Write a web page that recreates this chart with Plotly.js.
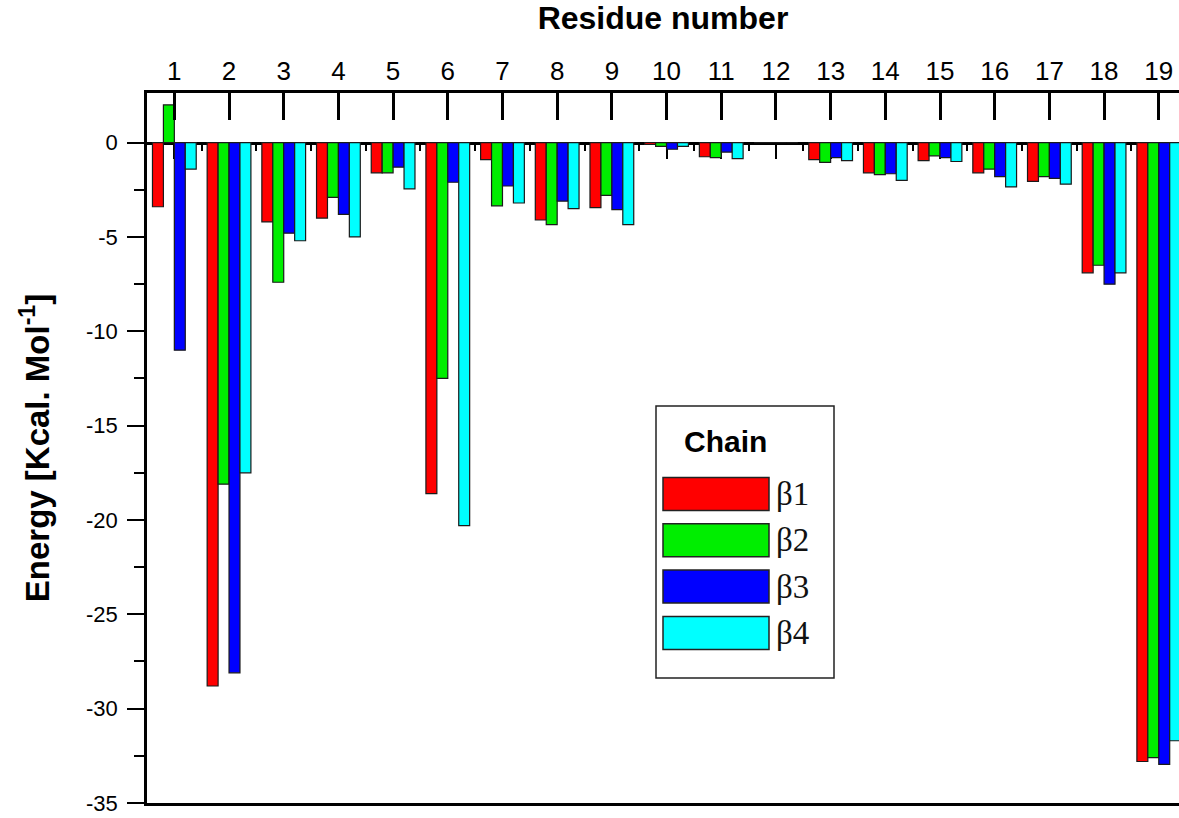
<!DOCTYPE html>
<html>
<head>
<meta charset="utf-8">
<script src="https://cdn.plot.ly/plotly-3.0.1.min.js"></script>
<style>html,body{margin:0;padding:0;background:#fff;}#chart{width:1179px;height:818px;}</style>
</head>
<body>
<div id="chart"></div>
<script>
// ---- data ----
const residues = [1, 2, 3, 4, 5, 6, 7, 8, 9, 10, 11, 12, 13, 14, 15, 16, 17, 18, 19];
const residueLabels = ['1','2','3','4','5','6','7','8','9','10','11','12','13','14','15','16','17','18','19'];
const beta1 = [-3.4, -28.8, -4.2, -4.0, -1.6, -18.6, -0.9, -4.1, -3.45, -0.1, -0.75, 0, -0.9, -1.6, -0.95, -1.6, -2.05, -6.9, -32.8];
const beta2 = [2.0, -18.1, -7.4, -2.9, -1.6, -12.5, -3.35, -4.35, -2.8, -0.2, -0.8, 0, -1.05, -1.7, -0.7, -1.4, -1.8, -6.5, -32.6];
const beta3 = [-11.0, -28.1, -4.8, -3.8, -1.3, -2.1, -2.3, -3.1, -3.55, -0.35, -0.5, 0, -0.8, -1.65, -0.8, -1.8, -1.9, -7.5, -32.95];
const beta4 = [-1.4, -17.5, -5.2, -5.0, -2.45, -20.3, -3.2, -3.5, -4.35, -0.2, -0.85, 0, -0.95, -2.0, -1.0, -2.35, -2.2, -6.9, -31.7];
const seriesNames = ['β1', 'β2', 'β3', 'β4'];
const seriesColors = ['#ff0000', '#00ee00', '#0000ff', '#00ffff'];
const yTickVals = [0, -5, -10, -15, -20, -25, -30, -35];
const yTickText = ['0', '-5', '-10', '-15', '-20', '-25', '-30', '-35'];
const legendTitle = 'Chain';
const xTitle = 'Residue number';
const yTitle = 'Energy [Kcal. Mol<sup>-1</sup>]';

// ---- layout geometry ----
const FIG_W = 1179, FIG_H = 818;
const M = {l: 147, r: 0, t: 93, b: 15};
const PW = FIG_W - M.l - M.r, PH = FIG_H - M.t - M.b;
const px = v => (v - M.l) / PW;
const py = v => (FIG_H - M.b - v) / PH;
const yMin = -35, yMax = 2.63;
const zeroPos = (0 - yMin) / (yMax - yMin);

const sans = 'Liberation Sans, Arial, Helvetica, sans-serif';
const serif = 'Liberation Serif, Times New Roman, serif';

const allSeries = [beta1, beta2, beta3, beta4];
const traces = allSeries.map((vals, i) => ({
  type: 'bar',
  name: seriesNames[i],
  x: residues,
  y: vals,
  xaxis: 'x',
  yaxis: 'y',
  marker: {color: seriesColors[i], line: {color: '#1a1a1a', width: 1.2}},
  showlegend: false,
  hoverinfo: 'x+y+name'
}));
// carrier for the top axis
traces.push({type: 'scatter', x: [], y: [], xaxis: 'x2', yaxis: 'y', showlegend: false, hoverinfo: 'skip'});

const minorX = residues.slice(0, -1).map((r, i) => (r + residues[i + 1]) / 2);
const minorY = yTickVals.slice(0, -1).map((v, i) => (v + yTickVals[i + 1]) / 2);

// custom legend
const shapes = [{
  type: 'rect', xref: 'paper', yref: 'paper',
  x0: px(656), x1: px(834), y0: py(678), y1: py(406),
  line: {color: '#222', width: 1.5}, fillcolor: '#fff', layer: 'above'
}];
const annotations = [{
  xref: 'paper', yref: 'paper', x: px(725), y: py(441), text: legendTitle,
  showarrow: false, xanchor: 'center', yanchor: 'middle',
  font: {family: sans, size: 30, color: '#000', weight: 'bold'}
}];
seriesNames.forEach((n, i) => {
  const c = 494 + 46.3 * i;
  shapes.push({
    type: 'rect', xref: 'paper', yref: 'paper',
    x0: px(663), x1: px(769), y0: py(c + 16.5), y1: py(c - 16.5),
    fillcolor: seriesColors[i], line: {color: '#222', width: 1.5}, layer: 'above'
  });
  annotations.push({
    xref: 'paper', yref: 'paper', x: px(774), y: py(c), text: n,
    showarrow: false, xanchor: 'left', yanchor: 'middle',
    font: {family: serif, size: 33, color: '#111'}
  });
});

const layout = {
  width: FIG_W, height: FIG_H,
  margin: M,
  paper_bgcolor: '#fff', plot_bgcolor: '#fff',
  font: {family: sans, color: '#000'},
  barmode: 'group', bargap: 0.2, bargroupgap: 0,
  showlegend: false,
  xaxis: {
    type: 'linear', range: [0.5, 19.37], anchor: 'free', position: zeroPos, side: 'bottom',
    showline: true, linecolor: '#000', linewidth: 2.5,
    tickmode: 'array', tickvals: residues, showticklabels: false,
    ticks: 'outside', ticklen: 15, tickwidth: 2, tickcolor: '#000',
    minor: {tickmode: 'array', tickvals: minorX, ticks: 'outside', ticklen: 7, tickwidth: 2, tickcolor: '#000'},
    showgrid: false, zeroline: false, layer: 'below traces', fixedrange: true
  },
  xaxis2: {
    type: 'linear', matches: 'x', overlaying: 'x', anchor: 'y', side: 'top',
    showline: true, mirror: true, linecolor: '#000', linewidth: 2.5,
    tickmode: 'array', tickvals: residues, ticktext: residueLabels,
    ticks: 'inside', ticklen: 27, tickwidth: 2.5, tickcolor: '#000',
    tickfont: {family: sans, size: 26, color: '#000'},
    showgrid: false, zeroline: false,
    title: {text: xTitle, font: {family: sans, size: 32, color: '#000', weight: 'bold'}, standoff: 20}
  },
  yaxis: {
    range: [yMin, yMax], anchor: 'x',
    showline: true, linecolor: '#000', linewidth: 2.5,
    tickmode: 'array', tickvals: yTickVals, ticktext: yTickText,
    ticks: 'outside', ticklen: 17, tickwidth: 2, tickcolor: '#000',
    ticklabelstandoff: 5, ticklabeloverflow: 'allow',
    minor: {tickmode: 'array', tickvals: minorY, ticks: 'outside', ticklen: 10, tickwidth: 2, tickcolor: '#000'},
    tickfont: {family: sans, size: 22, color: '#000'},
    showgrid: false, zeroline: false,
    title: {text: yTitle, font: {family: sans, size: 33, color: '#000', weight: 'bold'}, standoff: 27}
  },
  shapes: shapes,
  annotations: annotations
};

Plotly.newPlot('chart', traces, layout, {displayModeBar: false, responsive: false});
</script>
</body>
</html>
